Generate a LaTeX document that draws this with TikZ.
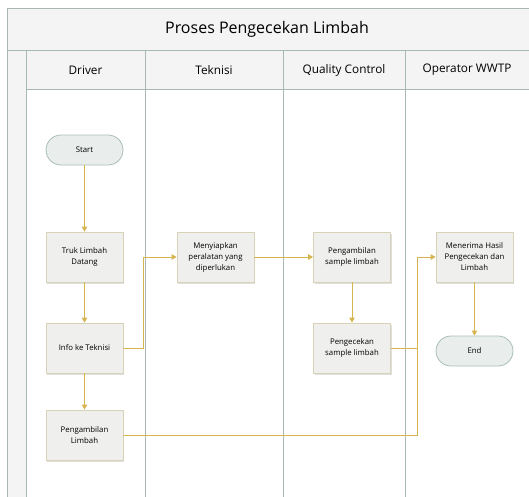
\documentclass[tikz,border=0pt]{standalone}
\usepackage{fontspec}
\setmainfont{Open Sans}
\usetikzlibrary{arrows.meta,shadows}
\definecolor{conn}{HTML}{D6B450}
\definecolor{boxfill}{HTML}{EFEFEE}
\definecolor{boxdraw}{HTML}{D8D2B6}
\definecolor{termfill}{HTML}{E9EDEC}
\definecolor{termdraw}{HTML}{A9BDB7}
\definecolor{lane}{HTML}{A8B9B4}
\definecolor{headfill}{HTML}{F3F4F3}
\tikzset{
  procbox/.style={draw=boxdraw, fill=boxfill, line width=0.8pt, minimum width=77pt, minimum height=50pt, align=center, font=\fontsize{7.8}{11}\selectfont, inner sep=1pt, drop shadow={shadow xshift=1pt, shadow yshift=-1.5pt, fill=black!25, opacity=0.5}},
  term/.style={draw=termdraw, fill=termfill, line width=0.8pt, rounded corners=15pt, minimum width=77pt, minimum height=30pt, font=\fontsize{7.8}{10}\selectfont},
  flow/.style={draw=conn, line width=0.9pt, -{Triangle[length=5pt,width=5.5pt]}},
  flowplain/.style={draw=conn, line width=0.9pt},
  laneline/.style={draw=lane, line width=1pt},
  headtext/.style={font=\fontsize{11.8}{13}\selectfont},
}
\begin{document}
\begin{tikzpicture}[x=1pt,y=-1pt]
\useasboundingbox (0,0) rectangle (529,496);
\begin{scope}
\clip (0,0) rectangle (529,496);
% title and header bands
\fill[headfill] (7,8) rectangle (540,89);
\fill[headfill] (7,89) rectangle (26,500);
\draw[laneline] (7,500) -- (7,8) -- (540,8);
\draw[laneline] (7,50) -- (540,50);
\draw[laneline] (26,89) -- (540,89);
\draw[laneline] (26,50) -- (26,500);
\draw[laneline] (145,50) -- (145,500);
\draw[laneline] (283,50) -- (283,500);
\draw[laneline] (405,50) -- (405,500);
\end{scope}
\node[font=\fontsize{16}{18}\selectfont] (title) at (267,29) {Proses Pengecekan Limbah};
\node[headtext] (hdriver) at (85.5,70) {Driver};
\node[headtext] (htek) at (214,70) {Teknisi};
\node[headtext] (hqc) at (344,70) {Quality Control};
\node[headtext] (hop) at (467,70) {Operator WWTP};
% nodes
\node[term] (start) at (84.5,150) {Start};
\node[procbox] (truk) at (84.5,257) {Truk Limbah\\Datang};
\node[procbox] (info) at (84.5,348) {Info ke Teknisi};
\node[procbox] (ambil) at (84.5,435) {Pengambilan\\Limbah};
\node[procbox] (siap) at (215.5,257) {Menyiapkan\\peralatan yang\\diperlukan};
\node[procbox] (sample) at (352,257) {Pengambilan\\sample limbah};
\node[procbox] (cek) at (352,348) {Pengecekan\\sample limbah};
\node[procbox] (terima) at (474.5,257) {Menerima Hasil\\Pengecekan dan\\Limbah};
\node[term] (end) at (474.5,351) {End};
\coordinate (j1) at (143,348);
\coordinate (j2) at (143,257);
\coordinate (j3) at (417,348);
\coordinate (j4) at (417,257);
\coordinate (j5) at (417,435);
% connectors
\draw[flow] (start) -- (truk);
\draw[flow] (truk) -- (info);
\draw[flow] (info) -- (ambil);
\draw[flow] (info.east) -- (j1) -- (j2) -- (siap.west);
\draw[flow] (siap) -- (sample);
\draw[flow] (sample) -- (cek);
\draw[flow] (cek.east) -- (j3) -- (j4) -- (terima.west);
\draw[flowplain] (ambil.east) -- (j5) -- (j3);
\draw[flow] (terima) -- (end);
\end{tikzpicture}
\end{document}
